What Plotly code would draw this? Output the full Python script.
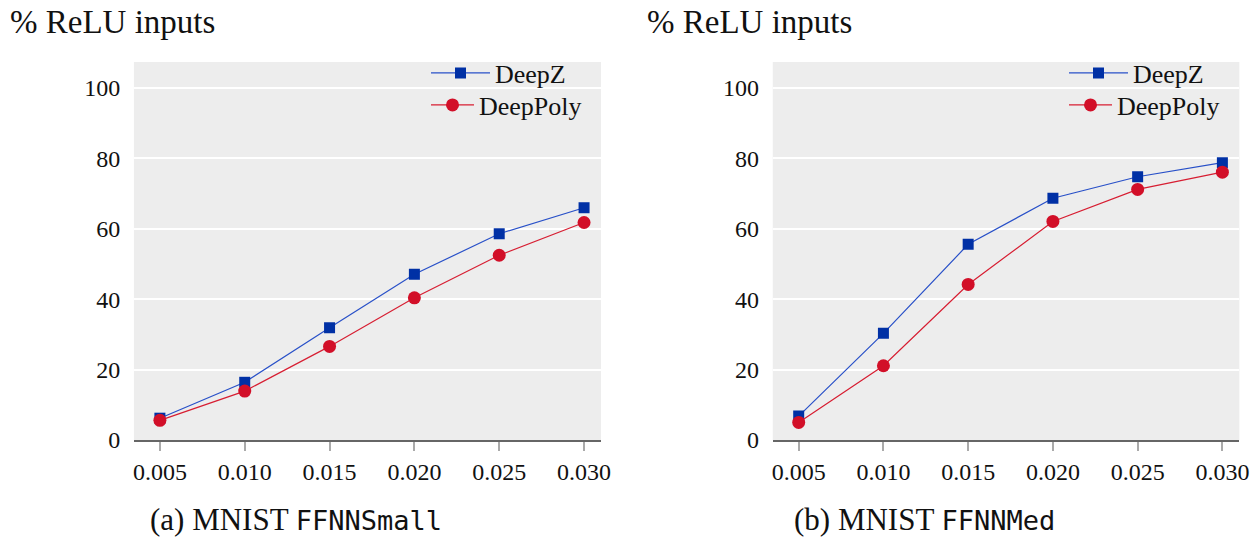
import plotly.graph_objects as go

# Perturbation radius on the x axis
eps = [0.005, 0.010, 0.015, 0.020, 0.025, 0.030]
eps_labels = ["0.005", "0.010", "0.015", "0.020", "0.025", "0.030"]

# Share of ReLU inputs (%) for each network and analyser
small_deepz = [6.2, 16.4, 31.9, 47.1, 58.6, 66.0]
small_deeppoly = [5.6, 13.9, 26.6, 40.4, 52.5, 61.8]
med_deepz = [6.8, 30.3, 55.6, 68.7, 74.8, 78.8]
med_deeppoly = [5.0, 21.1, 44.2, 62.1, 71.2, 76.1]

y_ticks = [0, 20, 40, 60, 80, 100]

BLUE_LINE = "rgb(40,80,200)"
BLUE_MARK = "rgb(0,48,165)"
RED_LINE = "rgb(215,30,50)"
RED_MARK = "rgb(210,15,40)"
SERIF = "Liberation Serif"
MONO = "DejaVu Sans Mono"
INK = "#111111"

fig = go.Figure()

# Each legend entry gets its own legend box so the two rows can be placed independently
panels = [
    ("x", "y", small_deepz, small_deeppoly, "legend", "legend2"),
    ("x2", "y2", med_deepz, med_deeppoly, "legend3", "legend4"),
]
for xa, ya, dz, dp, lg_z, lg_p in panels:
    fig.add_trace(go.Scatter(
        x=eps, y=dz, xaxis=xa, yaxis=ya, name="DeepZ", mode="lines+markers",
        line=dict(color=BLUE_LINE, width=1.2),
        marker=dict(symbol="square", size=11, color=BLUE_MARK),
        legend=lg_z,
    ))
    fig.add_trace(go.Scatter(
        x=eps, y=dp, xaxis=xa, yaxis=ya, name="DeepPoly", mode="lines+markers",
        line=dict(color=RED_LINE, width=1.2),
        marker=dict(symbol="circle", size=13, color=RED_MARK),
        legend=lg_p,
    ))

xaxis_common = dict(
    range=[0.00347, 0.0310], tickvals=eps, ticktext=eps_labels,
    showgrid=False, zeroline=False, showline=True, linecolor="#666666", linewidth=2,
    ticks="outside", ticklen=9, tickcolor="#aaaaaa", tickwidth=1.5,
    tickfont=dict(family=SERIF, size=24, color=INK), automargin=False,
)
yaxis_common = dict(
    range=[0, 107.4], tickvals=y_ticks, showgrid=True, gridcolor="white", gridwidth=1.5,
    zeroline=False, showline=False, ticks="outside", ticklen=8, tickcolor="rgba(0,0,0,0)",
    tickfont=dict(family=SERIF, size=24, color=INK), automargin=False,
)


def legend_box(x_px, y_px, itemwidth):
    return dict(
        bgcolor="rgba(0,0,0,0)", font=dict(family=SERIF, size=26, color=INK),
        xanchor="left", yanchor="middle", itemwidth=itemwidth,
        x=x_px / 1260, y=1 - y_px / 537,
    )


fig.update_layout(
    width=1260, height=537, margin=dict(l=0, r=0, t=0, b=0),
    paper_bgcolor="white", plot_bgcolor="#ededed",
    xaxis=dict(domain=[0.1063, 0.477], anchor="y", **xaxis_common),
    yaxis=dict(domain=[0.1806, 0.8845], anchor="x", **yaxis_common),
    xaxis2=dict(domain=[0.6133, 0.9836], anchor="y2", **xaxis_common),
    yaxis2=dict(domain=[0.1806, 0.8845], anchor="x2", **yaxis_common),
    legend=legend_box(426, 73, 59),
    legend2=legend_box(426, 105, 43),
    legend3=legend_box(1064, 73, 59),
    legend4=legend_box(1064, 105, 43),
    showlegend=True,
)

# Axis titles above each panel
for xpos in (8, 645):
    fig.add_annotation(
        text="% ReLU inputs", xref="paper", yref="paper",
        x=xpos / 1260, y=1 - 22 / 537, xanchor="left", yanchor="middle",
        showarrow=False, font=dict(family=SERIF, size=33, color=INK),
    )

# Sub-captions
captions = [
    ("(a) MNIST ", "FFNNSmall", 296),
    ("(b) MNIST ", "FFNNMed", 925),
]
for head, net, cx in captions:
    fig.add_annotation(
        text=f'{head}<span style="font-family:{MONO};font-size:27px">{net}</span>',
        xref="paper", yref="paper", x=cx / 1260, y=1 - 519 / 537,
        xanchor="center", yanchor="middle", showarrow=False,
        font=dict(family=SERIF, size=31, color=INK),
    )

fig.write_html("out.html")
